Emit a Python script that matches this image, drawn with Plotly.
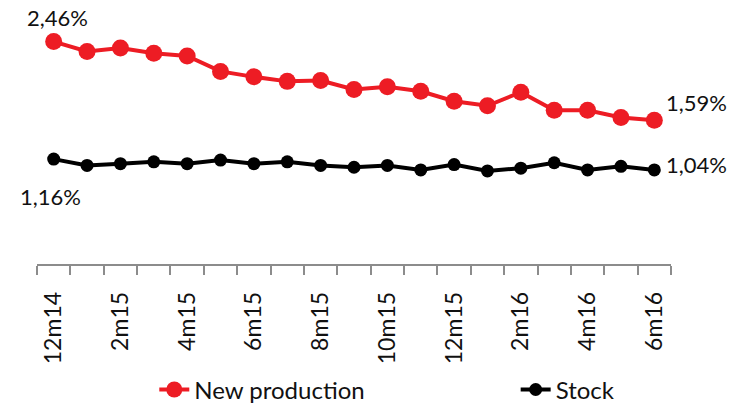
import plotly.graph_objects as go

# Monthly series, Dec 2014 - Jun 2016
months = ["12m14", "1m15", "2m15", "3m15", "4m15", "5m15", "6m15", "7m15", "8m15",
          "9m15", "10m15", "11m15", "12m15", "1m16", "2m16", "3m16", "4m16", "5m16", "6m16"]
new_production = [2.46, 2.35, 2.39, 2.33, 2.30, 2.13, 2.07, 2.02, 2.03, 1.93,
                  1.96, 1.91, 1.80, 1.75, 1.90, 1.70, 1.70, 1.62, 1.59]
stock = [1.16, 1.09, 1.11, 1.13, 1.11, 1.15, 1.11, 1.13, 1.09, 1.07,
         1.09, 1.04, 1.10, 1.03, 1.06, 1.12, 1.04, 1.08, 1.04]
tick_labels = months[::2]

RED = "#ED1C24"
BLACK = "#000000"
FONT = "Lato"
TEXT = "#111111"

pos = list(range(len(months)))

fig = go.Figure()
fig.add_trace(go.Scatter(
    x=pos, y=new_production, name="New production", mode="lines+markers",
    line=dict(color=RED, width=4), marker=dict(color=RED, size=17),
    legend="legend",
))
fig.add_trace(go.Scatter(
    x=pos, y=stock, name="Stock", mode="lines+markers",
    line=dict(color=BLACK, width=4), marker=dict(color=BLACK, size=13),
    legend="legend2",
))

def pct(v):
    return f"{v:.2f}".replace(".", ",") + "%"

last = len(months) - 1
annots = [
    dict(x=0, y=new_production[0], text=pct(new_production[0]), xshift=4, yshift=24,
         xanchor="center", yanchor="middle"),
    dict(x=0, y=stock[0], text=pct(stock[0]), xshift=-3, yshift=-37,
         xanchor="center", yanchor="middle"),
    dict(x=last, y=new_production[-1], text=pct(new_production[-1]), xshift=10, yshift=18,
         xanchor="left", yanchor="middle"),
    dict(x=last, y=stock[-1], text=pct(stock[-1]), xshift=10, yshift=5,
         xanchor="left", yanchor="middle"),
]
for a in annots:
    fig.add_annotation(showarrow=False, font=dict(family=FONT, size=22, color=TEXT), **a)

legend_style = dict(orientation="h", xanchor="left", yanchor="middle", y=-0.477,
                    bgcolor="rgba(0,0,0,0)", font=dict(family=FONT, size=24, color=TEXT))

fig.update_layout(
    width=747, height=403,
    margin=dict(l=37, r=76, t=0, b=139, autoexpand=False),
    paper_bgcolor="white", plot_bgcolor="white",
    font=dict(family=FONT, size=23, color=TEXT),
    showlegend=True,
    legend=dict(x=0.185, **legend_style),
    legend2=dict(x=0.755, **legend_style),
)
fig.update_xaxes(
    range=[-0.5, len(months) - 0.5],
    tickmode="array", tickvals=pos[::2], ticktext=tick_labels, tickangle=-90,
    ticks="", ticklabelstandoff=17, tickfont=dict(family=FONT, size=23, color=TEXT),
    showline=True, linecolor="#8c8c8c", linewidth=1.5,
    showgrid=False, zeroline=False, automargin=False,
    minor=dict(tickmode="array", tickvals=[p - 0.5 for p in pos] + [last + 0.5],
               ticks="outside", ticklen=9, tickcolor="#8c8c8c", tickwidth=1.5, showgrid=False),
)
fig.update_yaxes(range=[0, 2.92], visible=False, showgrid=False, zeroline=False)

fig.write_html("out.html")
